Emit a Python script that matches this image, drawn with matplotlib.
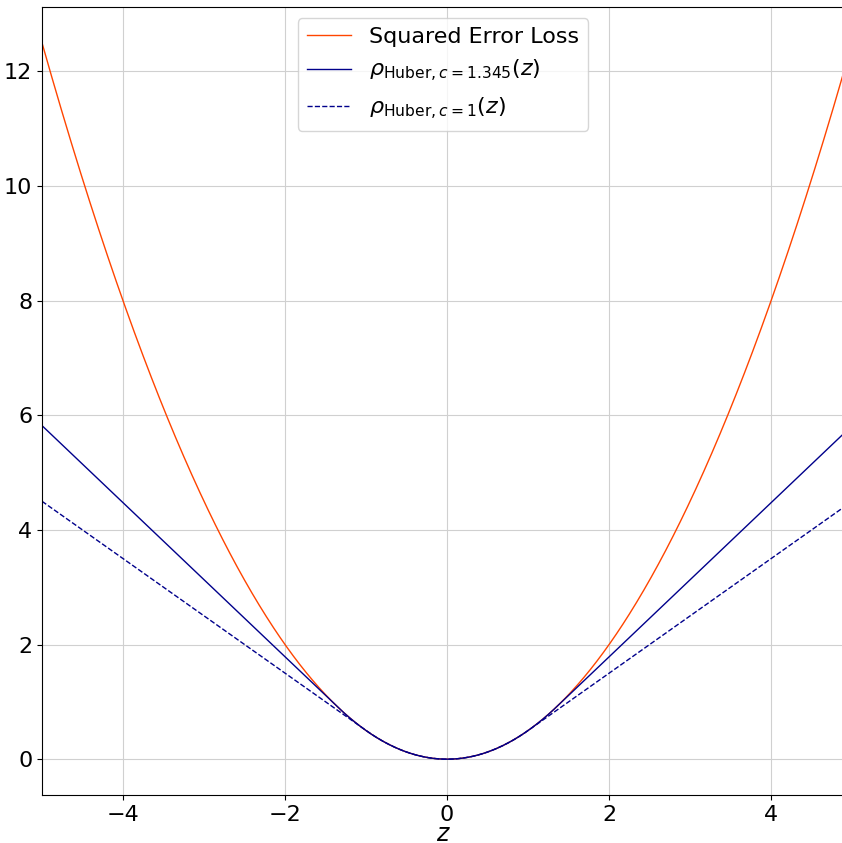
import numpy as np
import matplotlib
matplotlib.use("Agg")
import matplotlib.pyplot as plt

# Data: loss curves evaluated on a grid
z_start, z_stop, z_step = -5.0, 4.9, 0.01
c_values = [1.345, 1.0]
labels = ["Squared Error Loss",
          r"$\rho_{\mathrm{Huber}, c=1.345}(z)$",
          r"$\rho_{\mathrm{Huber}, c=1}(z)$"]

z = np.arange(z_start, z_stop + 1e-9, z_step)

def huber(z, c):
    return np.where(np.abs(z) <= c, 0.5 * z**2, c * np.abs(z) - 0.5 * c**2)

fig = plt.figure(figsize=(8.42, 8.43), dpi=100)
ax = fig.add_axes([42/842, 1 - 795/843, 802/842, (795 - 7)/843])
ax.plot(z, 0.5 * z**2, color="orangered", lw=1, label=labels[0])
ax.plot(z, huber(z, c_values[0]), color="darkblue", lw=1, label=labels[1])
ax.plot(z, huber(z, c_values[1]), color="darkblue", lw=1, ls="--", label=labels[2])
ax.set_xlim(z[0], z[-1])
ax.grid(True, color="#d0d0d0", lw=0.8)
ax.tick_params(labelsize=16)
ax.set_xlabel("$z$", fontsize=17, labelpad=-2)
ax.legend(fontsize=16, loc="upper center")
fig.savefig("out.png", dpi=100)
